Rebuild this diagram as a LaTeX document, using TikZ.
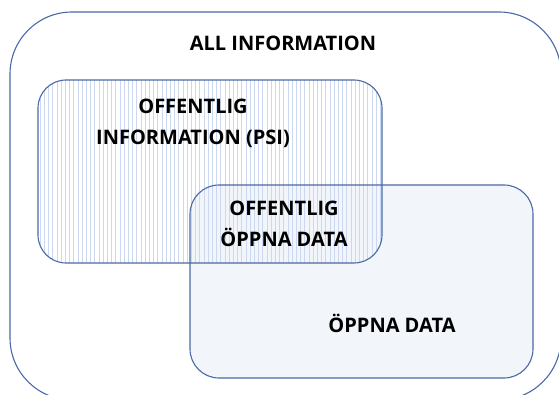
\documentclass[tikz,border=0pt]{standalone}
\usepackage{fontspec}
\setmainfont{Open Sans}
\usepackage{tikz}
\definecolor{kant}{HTML}{4A69A6}
\definecolor{ljus}{HTML}{F2F5FA}
\definecolor{rand}{HTML}{CCD8EF}
\tikzset{
  ruta/.style={draw=kant, line width=1.1pt},
  etikett/.style={font=\bfseries\fontsize{20}{31}\selectfont, align=center, text=black}
}

\begin{document}
\begin{tikzpicture}[x=1pt, y=-1pt]
% ram
\useasboundingbox (0,0) rectangle (559,395);

% allt
\draw[ruta, rounded corners=62pt] (10,12) rectangle (561,400);

% öppna data
\fill[ljus, rounded corners=29pt] (190,185) rectangle (533,378);

% offentlig information, randig
\begin{scope}
  \clip[rounded corners=28pt] (38,80) rectangle (382,263);
  \foreach \x in {40,44.2,...,382}
    \draw[rand, line width=0.55pt] (\x,80) -- (\x,263);
\end{scope}

% kanter
\draw[ruta, rounded corners=28pt] (38,80) rectangle (382,263);
\draw[ruta, rounded corners=29pt] (190,185) rectangle (533,378);

% texter
\node[etikett] (alla) at (283,43) {ALL INFORMATION};
\node[etikett] (psi) at (193,123) {OFFENTLIG\\INFORMATION (PSI)};
\node[etikett] (snitt) at (284,224) {OFFENTLIG\\ÖPPNA DATA};
\node[etikett] (oppna) at (392,323) {ÖPPNA DATA};
\end{tikzpicture}
\end{document}
